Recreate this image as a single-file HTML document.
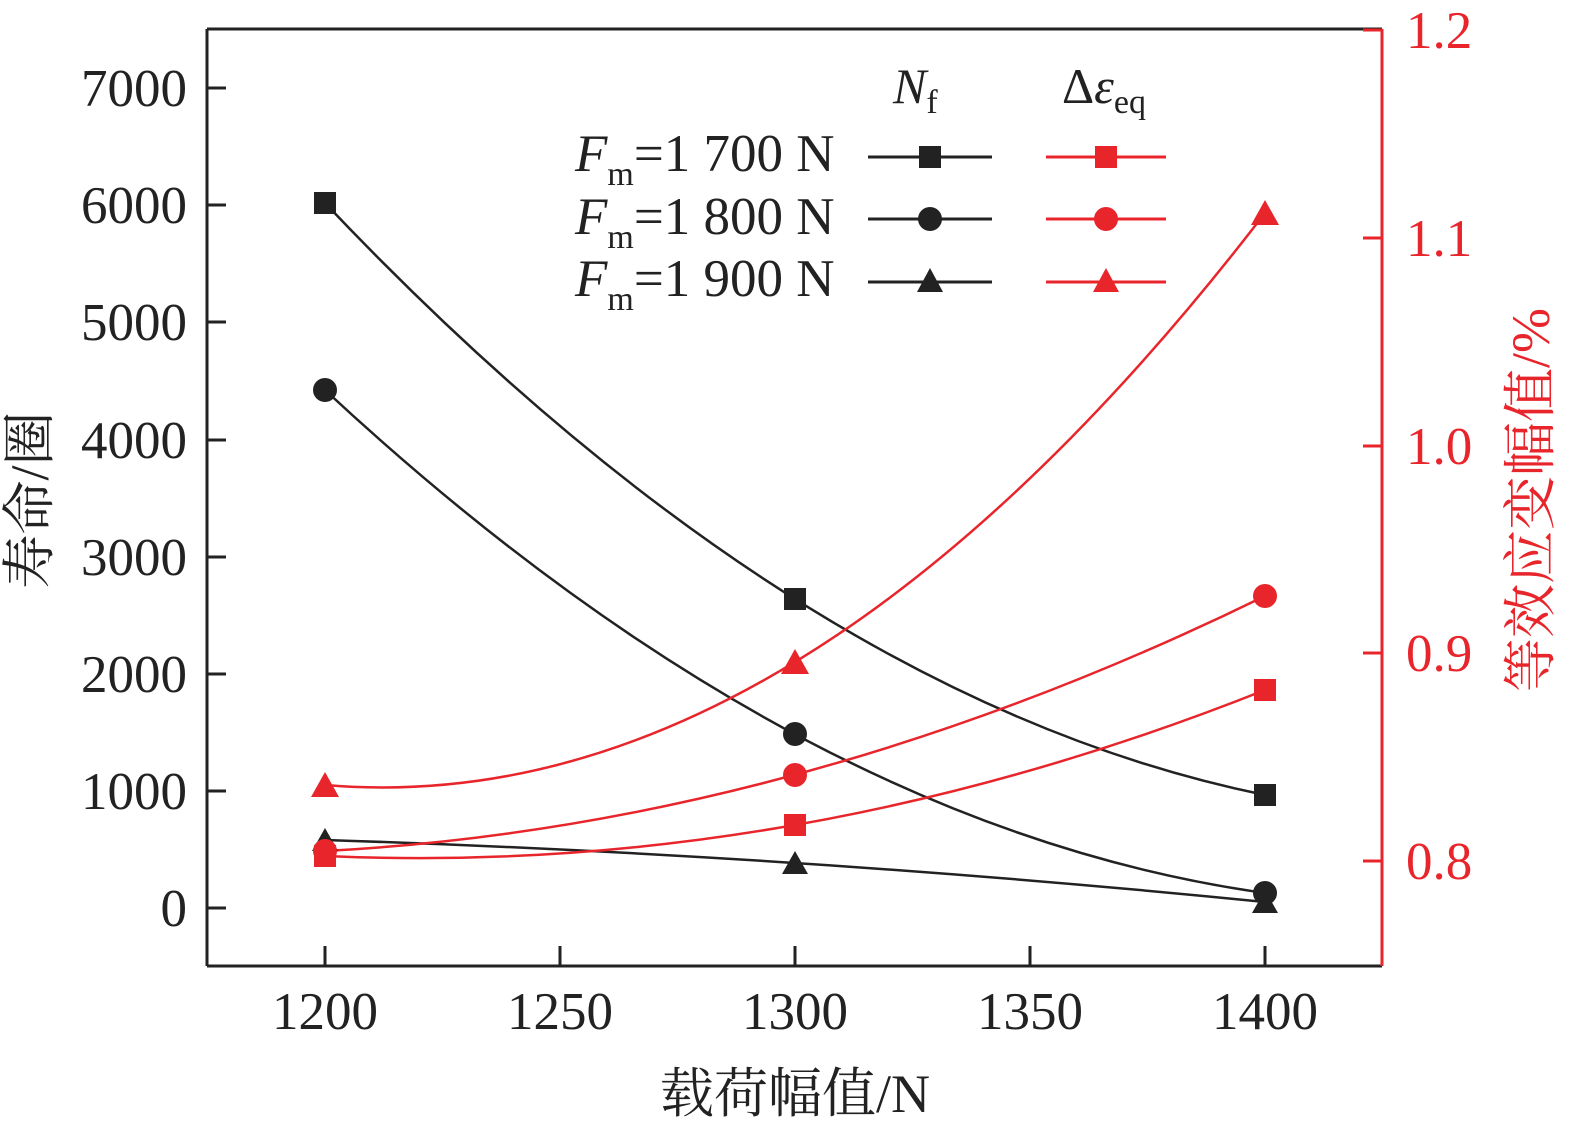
<!DOCTYPE html>
<html><head><meta charset="utf-8"><style>
html,body{margin:0;padding:0;background:#fff;}
svg{display:block;}
text{font-family:"Liberation Serif","Noto Serif CJK SC",serif;}
</style></head><body>
<svg width="1575" height="1134" viewBox="0 0 1575 1134" xmlns="http://www.w3.org/2000/svg">
<rect width="1575" height="1134" fill="#fff"/>
<line x1="207" y1="29" x2="1382" y2="29" stroke="#222" stroke-width="3"/>
<line x1="207" y1="29" x2="207" y2="966" stroke="#222" stroke-width="3"/>
<line x1="207" y1="966" x2="1382" y2="966" stroke="#222" stroke-width="3"/>
<line x1="1382" y1="29" x2="1382" y2="966" stroke="#e8252b" stroke-width="3"/>
<g stroke="#222" stroke-width="3">
<line x1="207" y1="908" x2="226" y2="908"/><line x1="207" y1="791" x2="226" y2="791"/>
<line x1="207" y1="674" x2="226" y2="674"/><line x1="207" y1="557" x2="226" y2="557"/>
<line x1="207" y1="440" x2="226" y2="440"/><line x1="207" y1="322" x2="226" y2="322"/>
<line x1="207" y1="205" x2="226" y2="205"/><line x1="207" y1="88" x2="226" y2="88"/>
<line x1="325" y1="966" x2="325" y2="946"/><line x1="560" y1="966" x2="560" y2="946"/>
<line x1="795" y1="966" x2="795" y2="946"/><line x1="1030" y1="966" x2="1030" y2="946"/>
<line x1="1265" y1="966" x2="1265" y2="946"/>
</g>
<g stroke="#e8252b" stroke-width="3">
<line x1="1382" y1="861" x2="1363" y2="861"/><line x1="1382" y1="653" x2="1363" y2="653"/>
<line x1="1382" y1="446" x2="1363" y2="446"/><line x1="1382" y1="238" x2="1363" y2="238"/>
<line x1="1382" y1="30" x2="1363" y2="30"/>
</g>
<g font-size="53" fill="#222" text-anchor="end">
<text x="187" y="926">0</text><text x="187" y="809">1000</text><text x="187" y="692">2000</text>
<text x="187" y="575">3000</text><text x="187" y="458">4000</text><text x="187" y="340">5000</text>
<text x="187" y="223">6000</text><text x="187" y="106">7000</text>
</g>
<g font-size="53" fill="#222" text-anchor="middle">
<text x="325" y="1029">1200</text><text x="560" y="1029">1250</text><text x="795" y="1029">1300</text>
<text x="1030" y="1029">1350</text><text x="1265" y="1029">1400</text>
</g>
<g font-size="53" fill="#e8252b">
<text x="1406" y="879">0.8</text><text x="1406" y="671">0.9</text><text x="1406" y="464">1.0</text>
<text x="1406" y="256">1.1</text><text x="1406" y="48">1.2</text>
</g>
<text x="795" y="1112" font-size="54" fill="#222" text-anchor="middle">载荷幅值/N</text>
<text transform="translate(48,500) rotate(-90)" font-size="54" fill="#222" text-anchor="middle">寿命/圈</text>
<text transform="translate(1549,500) rotate(-90)" font-size="54" fill="#e8252b" text-anchor="middle">等效应变幅值/%</text>
<g fill="none" stroke-width="2.5">
<path d="M325,203 Q795,699 1265,795" stroke="#222"/>
<path d="M325,390 Q795,827 1265,893" stroke="#222"/>
<path d="M325,840 Q795,855 1265,902" stroke="#222"/>
<path d="M325,856 Q795,877 1265,690" stroke="#e8252b"/>
<path d="M325,851 Q795,826 1265,596" stroke="#e8252b"/>
<path d="M325,785 Q795,825 1265,213" stroke="#e8252b"/>
</g>
<g fill="#222">
<rect x="314" y="192" width="22" height="22"/><rect x="784" y="588" width="22" height="22"/><rect x="1254" y="784" width="22" height="22"/>
<circle cx="325" cy="390" r="12"/><circle cx="795" cy="734" r="12"/><circle cx="1265" cy="893" r="12"/>
<polygon points="325,828 338,851 312,851"/><polygon points="795,851 808,874 782,874"/><polygon points="1265,890 1278,913 1252,913"/>
</g>
<g fill="#e8252b">
<rect x="314" y="845" width="22" height="22"/><rect x="784" y="814" width="22" height="22"/><rect x="1254" y="679" width="22" height="22"/>
<circle cx="325" cy="851" r="12"/><circle cx="795" cy="775" r="12"/><circle cx="1265" cy="596" r="12"/>
<polygon points="325,772 339,797 311,797"/><polygon points="795,649 809,674 781,674"/><polygon points="1265,200 1279,225 1251,225"/>
</g>
<text x="893" y="103" font-size="50" fill="#222"><tspan font-style="italic">N</tspan><tspan font-size="34" dy="10">f</tspan></text>
<text x="1062" y="103" font-size="50" fill="#222">Δ<tspan font-style="italic">ε</tspan><tspan font-size="34" dy="10">eq</tspan></text>
<g font-size="53" fill="#222">
<text x="575" y="171"><tspan font-style="italic">F</tspan><tspan font-size="34" dy="14">m</tspan><tspan dy="-14">=1 700 N</tspan></text>
<text x="575" y="234"><tspan font-style="italic">F</tspan><tspan font-size="34" dy="14">m</tspan><tspan dy="-14">=1 800 N</tspan></text>
<text x="575" y="296"><tspan font-style="italic">F</tspan><tspan font-size="34" dy="14">m</tspan><tspan dy="-14">=1 900 N</tspan></text>
</g>
<g stroke-width="3">
<line x1="868" y1="157" x2="992" y2="157" stroke="#222"/>
<line x1="868" y1="219" x2="992" y2="219" stroke="#222"/>
<line x1="868" y1="282" x2="992" y2="282" stroke="#222"/>
<line x1="1046" y1="157" x2="1166" y2="157" stroke="#e8252b"/>
<line x1="1046" y1="219" x2="1166" y2="219" stroke="#e8252b"/>
<line x1="1046" y1="282" x2="1166" y2="282" stroke="#e8252b"/>
</g>
<rect x="919" y="146" width="22" height="22" fill="#222"/>
<circle cx="930" cy="219" r="12" fill="#222"/>
<polygon points="930,268 943,292 917,292" fill="#222"/>
<rect x="1095" y="146" width="22" height="22" fill="#e8252b"/>
<circle cx="1106" cy="219" r="12" fill="#e8252b"/>
<polygon points="1106,268 1119,292 1093,292" fill="#e8252b"/>
</svg>
</body></html>
